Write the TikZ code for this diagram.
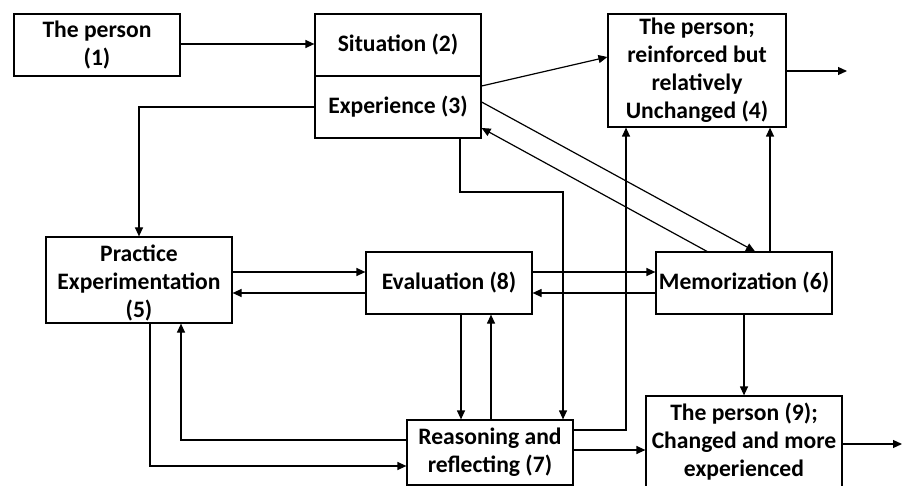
\documentclass[tikz,border=0pt]{standalone}
\usepackage{fontspec}
\setmainfont{Carlito}
\usetikzlibrary{arrows.meta}
\begin{document}
\begin{tikzpicture}[x=1pt,y=-1pt,
  txt/.style={inner sep=0pt,align=center,
    font=\bfseries\fontsize{23.6}{28}\selectfont},
  box/.style={txt,draw,line width=1.2pt},
  arr/.style={line width=1.2pt,-{Triangle[length=9pt,width=8pt]}}]
\useasboundingbox (0,0) rectangle (904,486);
\clip (0,0) rectangle (904,486);

% boxes
\node[box,minimum width=166,minimum height=62] (p1) at (97,45) {The person\\(1)};
\node[box,minimum width=166,minimum height=62] (sit) at (398,45) {Situation (2)};
\node[box,minimum width=166,minimum height=62] (exp) at (398,107) {Experience (3)};
\node[box,minimum width=178,minimum height=113] (p4) at (697,70.5)
  {The person;\\reinforced but\\relatively\\Unchanged (4)};
\node[box,minimum width=186,minimum height=86] (prac) at (139,280) {};
\node[txt] (pract) at (139,283) {Practice\\Experimentation\\(5)};
\node[box,minimum width=166,minimum height=62] (eval) at (449,283) {Evaluation (8)};
\node[box,minimum width=176,minimum height=62] (memo) at (744,283) {Memorization (6)};
\node[box,minimum width=166,minimum height=65] (reas) at (490,452.5) {Reasoning and\\reflecting (7)};
\node[box,minimum width=196,minimum height=100] (p9) at (744,446) {};
\node[txt] (p9t) at (744,441.5) {The person (9);\\Changed and more\\experienced};

% free ends of the outgoing arrows
\coordinate (out4) at (847,71);
\coordinate (out9) at (902,444);

% connectors
\draw[arr] (p1.east |- 0,44) -- (sit.west |- 0,44);
\draw[arr] (exp.east |- 0,86) -- (p4.west |- 0,57);
\draw[arr] (p4.east |- out4) -- (out4);
\draw[arr] (exp.east |- 0,102) -- (memo.north -| 755,0);
\draw[arr] (memo.north -| 707,0) -- (exp.east |- 0,128);
\draw[arr] (memo.north -| 770,0) -- (p4.south -| 770,0);
\draw[arr] (exp.west) -| (prac.north);

\draw[arr] (prac.east |- 0,272) -- (eval.west |- 0,272);
\draw[arr] (eval.west |- 0,293) -- (prac.east |- 0,293);
\draw[arr] (eval.east |- 0,272) -- (memo.west |- 0,272);
\draw[arr] (memo.west |- 0,293) -- (eval.east |- 0,293);

\draw[arr] (eval.south -| 461,0) -- (reas.north -| 461,0);
\draw[arr] (reas.north -| 491,0) -- (eval.south -| 491,0);
\draw[arr] (exp.south -| 460,0) -- (460,192) -- (563,192) -- (reas.north -| 563,0);

\draw[arr] (prac.south -| 150,0) |- (reas.west |- 0,466);
\draw[arr] (reas.west |- 0,440) -| (prac.south -| 181,0);
\draw[arr] (reas.east |- 0,430) -| (p4.south -| 626,0);
\draw[arr] (reas.east |- 0,450) -- (p9.west |- 0,450);

\draw[arr] (memo.south) -- (p9.north);
\draw[arr] (p9.east |- out9) -- (out9);
\end{tikzpicture}
\end{document}
